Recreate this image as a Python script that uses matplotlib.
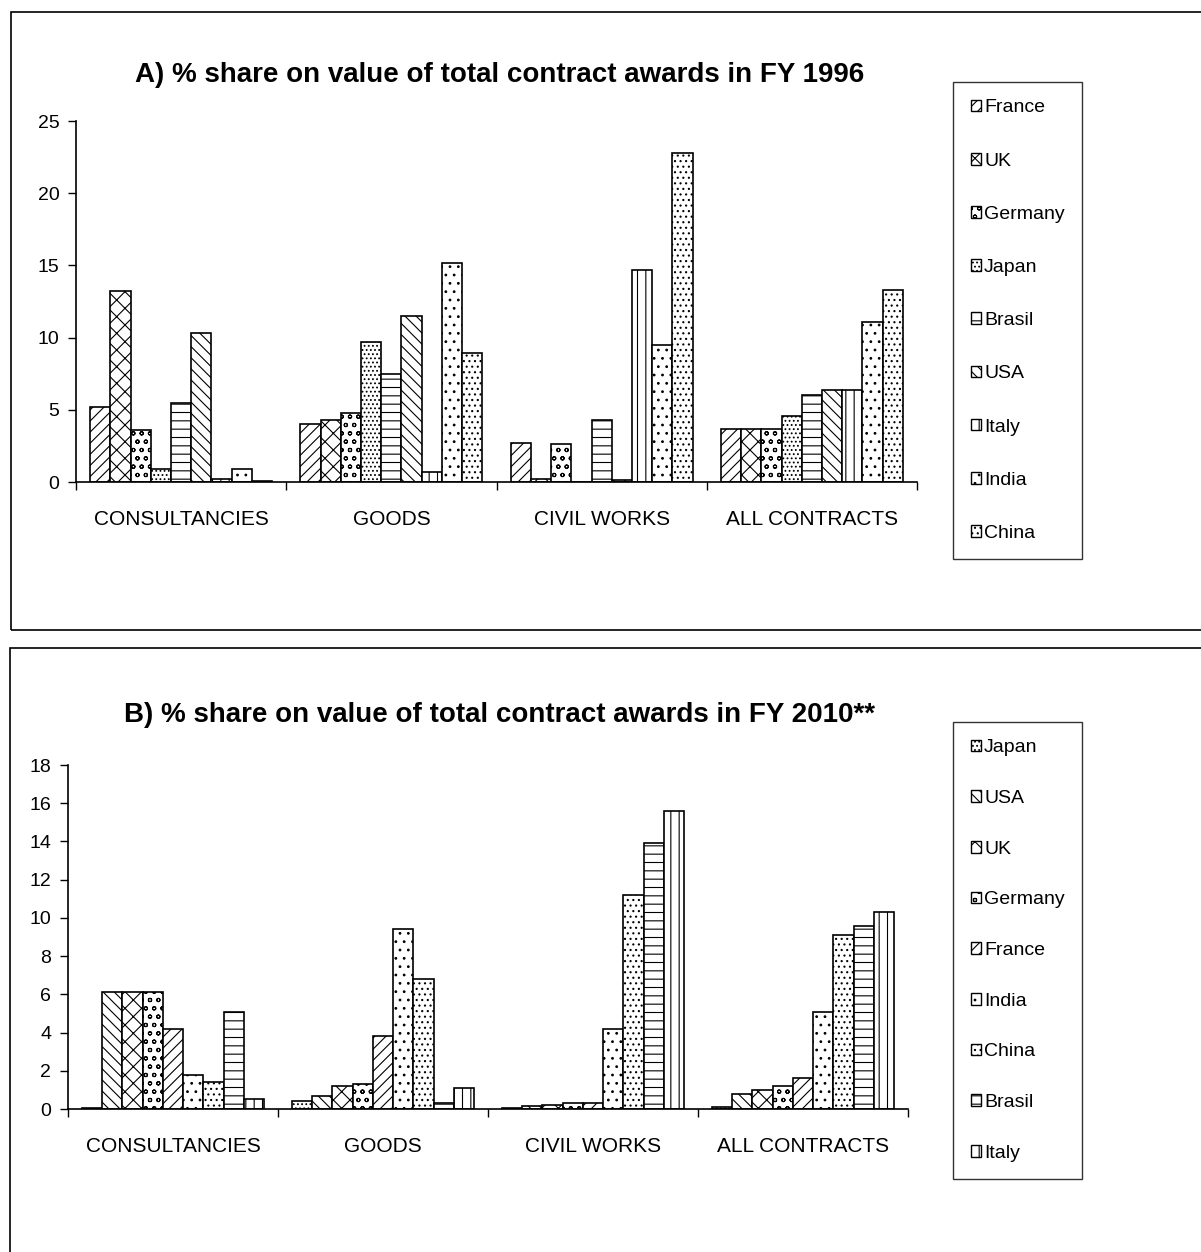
import matplotlib
matplotlib.use('Agg')
import matplotlib.pyplot as plt
from matplotlib.patches import Rectangle, Patch
import numpy as np

plt.rcParams['font.family'] = ['Liberation Sans', 'DejaVu Sans']
plt.rcParams['hatch.linewidth'] = 0.8

categories = ['CONSULTANCIES', 'GOODS', 'CIVIL WORKS', 'ALL CONTRACTS']

# A) FY 1996
countries_a = ['France', 'UK', 'Germany', 'Japan', 'Brasil', 'USA', 'Italy', 'India', 'China']
france_96 = [5.2, 4.0, 2.7, 3.7]
uk_96 = [13.2, 4.3, 0.2, 3.7]
germany_96 = [3.6, 4.8, 2.6, 3.7]
japan_96 = [0.9, 9.7, 0.0, 4.6]
brasil_96 = [5.5, 7.5, 4.3, 6.0]
usa_96 = [10.3, 11.5, 0.15, 6.4]
italy_96 = [0.2, 0.7, 14.7, 6.4]
india_96 = [0.9, 15.2, 9.5, 11.1]
china_96 = [0.1, 8.9, 22.8, 13.3]
values_a = [france_96, uk_96, germany_96, japan_96, brasil_96, usa_96, italy_96, india_96, china_96]

# B) FY 2010
countries_b = ['Japan', 'USA', 'UK', 'Germany', 'France', 'India', 'China', 'Brasil', 'Italy']
japan_10 = [0.05, 0.4, 0.05, 0.08]
usa_10 = [6.1, 0.7, 0.15, 0.8]
uk_10 = [6.1, 1.2, 0.2, 1.0]
germany_10 = [6.1, 1.3, 0.3, 1.2]
france_10 = [4.2, 3.8, 0.3, 1.6]
india_10 = [1.8, 9.4, 4.2, 5.1]
china_10 = [1.4, 6.8, 11.2, 9.1]
brasil_10 = [5.1, 0.3, 13.9, 9.6]
italy_10 = [0.5, 1.1, 15.6, 10.3]
values_b = [japan_10, usa_10, uk_10, germany_10, france_10, india_10, china_10, brasil_10, italy_10]

# hatch per country (black & white excel style)
hatches = {
    'France': '///',
    'UK': 'xx',
    'Germany': 'oo',
    'Japan': '....',
    'Brasil': '--',
    'USA': '\\\\\\',
    'Italy': '||',
    'India': '..',
    'China': '...',
}

W, H = 1201, 1252
fig = plt.figure(figsize=(W / 100, H / 100), dpi=100)
fig.patch.set_facecolor('white')

# panel frames
fig.add_artist(Rectangle((11 / W, 1 - 630 / H), 1.2, (630 - 12) / H, transform=fig.transFigure,
                         fill=False, edgecolor='black', linewidth=1.2))
fig.add_artist(Rectangle((10 / W, -0.1), 1.2, 0.1 + (H - 648) / H, transform=fig.transFigure,
                         fill=False, edgecolor='black', linewidth=1.2))


def draw_panel(rect, countries, values, ymax, ystep, title, title_y, leg_top, leg_space):
    ax = fig.add_axes(rect)
    n = len(countries)
    w = 0.0963
    x = np.arange(len(categories)) + 0.5
    for i, (c, v) in enumerate(zip(countries, values)):
        ax.bar(x + (i - (n - 1) / 2) * w, v, width=w, facecolor='white', edgecolor='black',
               hatch=hatches[c], linewidth=1.2)
    ax.set_xlim(0, len(categories))
    ax.set_ylim(0, ymax)
    ax.set_yticks(np.arange(0, ymax + 0.1, ystep))
    ax.set_xticks(np.arange(len(categories) + 1))
    ax.set_xticklabels([])
    ax.set_xticks(x, minor=True)
    ax.set_xticklabels(categories, minor=True, fontsize=15)
    ax.tick_params(axis='x', which='minor', length=0, pad=20)
    ax.tick_params(axis='x', which='major', length=6, direction='out', width=1)
    ax.tick_params(axis='y', length=6, direction='out', width=1, labelsize=14, pad=6)
    ax.spines['top'].set_visible(False)
    ax.spines['right'].set_visible(False)
    ax.spines['left'].set_linewidth(1.2)
    ax.spines['bottom'].set_linewidth(1.2)
    fig.text(500 / W, 1 - title_y / H, title, ha='center', va='center', fontsize=20, fontweight='bold')
    handles = [Patch(facecolor='white', edgecolor='black', hatch=hatches[c], label=c) for c in countries]
    leg = fig.legend(handles=handles, loc='upper left', bbox_to_anchor=(953 / W, 1 - leg_top / H),
                     frameon=True, fancybox=False, edgecolor='black', fontsize=14,
                     handlelength=0.55, handleheight=0.55, handletextpad=0.15,
                     labelspacing=leg_space, borderpad=0.9, borderaxespad=0)
    leg.get_frame().set_linewidth(1.0)
    return ax


draw_panel([76 / W, 1 - 482 / H, (917 - 76) / W, (482 - 121) / H], countries_a, values_a, 25, 5,
           'A) % share on value of total contract awards in FY 1996', 75, 82, 1.86)
draw_panel([68 / W, 1 - 1109 / H, (908 - 68) / W, (1109 - 765) / H], countries_b, values_b, 18, 2,
           'B) % share on value of total contract awards in FY 2010**', 715, 722, 1.73)

plt.savefig('out.png', dpi=100)
